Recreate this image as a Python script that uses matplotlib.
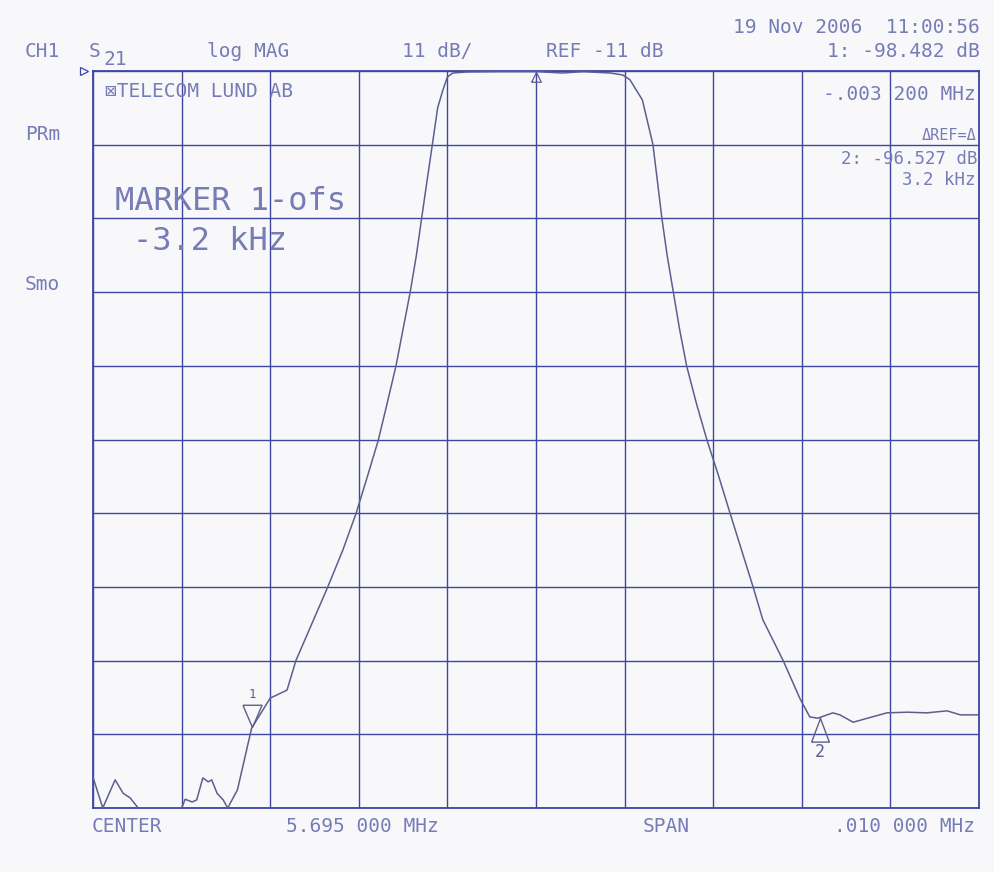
import numpy as np
import matplotlib
matplotlib.use('Agg')
import matplotlib.pyplot as plt

# S21 trace, offset from center in kHz / magnitude in dB
freq_khz = [-5.00, -4.89, -4.75, -4.66, -4.58, -4.49, -4.00, -3.96, -3.88, -3.83,
            -3.76, -3.70, -3.66, -3.60, -3.53, -3.48, -3.37, -3.21, -3.00, -2.92,
            -2.81, -2.71, -2.53, -2.35, -2.18, -2.03, -1.90, -1.78, -1.68, -1.58,
            -1.50, -1.42, -1.35, -1.29, -1.23, -1.17, -1.11, -1.05, -1.00, -0.94,
            -0.78, -0.41, 0.01, 0.30, 0.53, 0.84, 0.98, 1.06, 1.20, 1.29,
            1.32, 1.37, 1.42, 1.48, 1.55, 1.62, 1.70, 1.81, 1.93, 2.06,
            2.19, 2.32, 2.45, 2.56, 2.79, 2.98, 3.09, 3.18, 3.35, 3.43,
            3.58, 3.74, 3.96, 4.19, 4.41, 4.64, 4.79, 4.98]
mag_db = [-116.4, -121.0, -116.8, -118.8, -119.5, -121.0, -121.0, -119.7, -120.1, -119.8,
          -116.5, -117.1, -116.8, -118.8, -119.8, -121.0, -118.3, -109.1, -104.6, -104.1,
          -103.4, -99.0, -93.5, -88.0, -82.5, -77.0, -71.4, -66.1, -60.6, -55.0,
          -49.5, -44.0, -38.5, -32.9, -27.4, -22.0, -16.5, -13.8, -11.9, -11.3,
          -11.15, -11.1, -11.1, -11.3, -11.1, -11.3, -11.6, -12.3, -15.3, -20.3,
          -22.0, -27.4, -32.9, -38.5, -44.0, -49.5, -55.0, -60.6, -66.1, -71.4,
          -77.0, -82.5, -88.0, -92.9, -99.0, -104.7, -107.4, -107.6, -106.8, -107.1,
          -108.2, -107.6, -106.8, -106.7, -106.8, -106.5, -107.1, -107.1]

marker_khz = [-3.2, 3.2]
marker_labels = ['1', '2']
ref_marker_khz = 0.0

center_mhz = 5.695
span_khz = 10.0
ref_db = -11
scale_db = 11
n_div = 10

W, H = 995, 872
PAPER = '#f8f8fb'
GRID = '#3e46a2'
TRACE = '#5c5f8e'
INK = '#767cb6'
FONT = ['DejaVu Sans Mono', 'DejaVu Sans']

fig = plt.figure(figsize=(W / 100, H / 100), dpi=100)
fig.patch.set_facecolor(PAPER)
ax = fig.add_axes([93 / W, 1 - 808 / H, 886 / W, 737 / H])
ax.set_facecolor(PAPER)

x0, x1 = -span_khz / 2, span_khz / 2
y1 = ref_db
y0 = ref_db - n_div * scale_db
ax.set_xlim(x0, x1)
ax.set_ylim(y0, y1)
ax.set_xticks(np.linspace(x0, x1, n_div + 1))
ax.set_yticks(np.linspace(y0, y1, n_div + 1))
ax.tick_params(length=0, labelbottom=False, labelleft=False)
ax.grid(True, color=GRID, lw=1.0)
for s in ax.spines.values():
    s.set_color(GRID)
    s.set_linewidth(1.3)

ax.plot(freq_khz, mag_db, color=TRACE, lw=1.1, zorder=3, solid_joinstyle='round')

# markers 1 and 2 sit on the trace (apex of the triangle on the point)
mk_y = np.interp(marker_khz, freq_khz, mag_db)
down_tri = [(-0.43, 1), (0.43, 1), (0, 0), (-0.43, 1)]
up_tri = [(-0.375, -1), (0.375, -1), (0, 0), (-0.375, -1)]
ax.plot(marker_khz[0], mk_y[0], marker=down_tri, ms=32, mfc='none', mec=TRACE, mew=1.0, zorder=4)
ax.plot(marker_khz[1], mk_y[1], marker=up_tri, ms=34, mfc='none', mec=TRACE, mew=1.0, zorder=4)
ax.annotate(marker_labels[0], (marker_khz[0], mk_y[0]), xytext=(0, 23), textcoords='offset points',
            ha='center', va='center', fontsize=9, family=FONT, color=TRACE)
ax.annotate(marker_labels[1], (marker_khz[1], mk_y[1]), xytext=(0, -25), textcoords='offset points',
            ha='center', va='center', fontsize=12, family=FONT, color=TRACE)

# delta reference marker under the passband top
ref_y = np.interp(ref_marker_khz, freq_khz, mag_db)
ax.plot(ref_marker_khz, ref_y, marker=[(-0.5, -1), (0.5, -1), (0, 0), (-0.5, -1)], ms=14,
        mfc='none', mec=TRACE, mew=0.9, zorder=4, clip_on=False)

# reference level pointer at the left edge
ax.plot(-0.01, ref_db, marker='>', ms=6, mfc='none', mec=GRID, mew=0.9,
        transform=ax.get_yaxis_transform(), clip_on=False)


def put(x, y, s, size=14, ha='left', color=INK):
    fig.text(x / W, 1 - y / H, s, fontsize=size, family=FONT, color=color,
             ha=ha, va='baseline')


# header
put(25, 57, 'CH1')
put(89, 57, 'S')
put(104, 65, '21')
put(248, 57, 'log MAG', ha='center')
put(437, 57, '11 dB/', ha='center')
put(605, 57, 'REF %d dB' % ref_db, ha='center')
put(980, 33, '19 Nov 2006  11:00:56', ha='right')
put(980, 57, '1: -98.482 dB', ha='right')

# right-hand readouts
put(976, 100, '-.003 200 MHz', ha='right')
put(976, 140, '\u0394REF=\u0394', size=11, ha='right')
put(978, 164, '2: -96.527 dB', size=12.5, ha='right')
put(976, 185, '3.2 kHz', size=12.5, ha='right')

# inside the grid
put(105, 97, '\u22a0TELECOM LUND AB')
put(115, 210, 'MARKER 1-ofs', size=23)
put(133, 250, '-3.2 kHz', size=23)

# left softkey labels
put(25, 140, 'PRm')
put(25, 290, 'Smo')

# footer
put(92, 832, 'CENTER')
put(362, 832, '%.3f 000 MHz' % center_mhz, ha='center')
put(643, 832, 'SPAN')
put(975, 832, '.010 000 MHz', ha='right')

fig.savefig('out.png', dpi=100, facecolor=PAPER)
